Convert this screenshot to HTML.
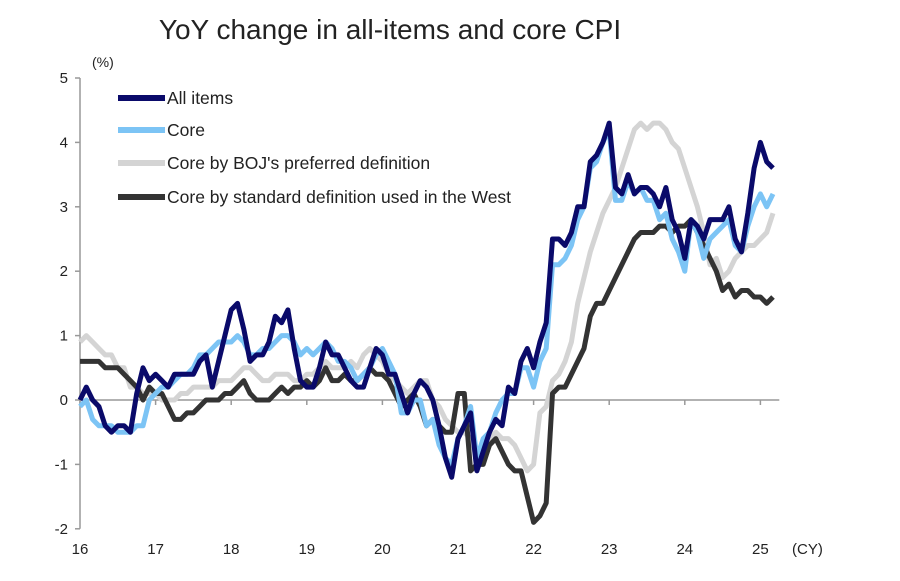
<!DOCTYPE html>
<html><head><meta charset="utf-8"><style>
body{margin:0;background:#fff;}
svg text{font-family:"Liberation Sans",Arial,sans-serif;fill:#222;}
</style></head><body>
<svg width="900" height="576">
<text x="390" y="39" font-size="28" text-anchor="middle">YoY change in all-items and core CPI</text>
<text x="92" y="67" font-size="14">(%)</text>
<text x="792" y="554" font-size="15">(CY)</text>
<g id="axes"></g>
<g id="lines"></g>
<g id="legend"></g>
</svg>
<script>
const yearLabels=["16","17","18","19","20","21","22","23","24","25"];
const yTicks=[5,4,3,2,1,0,-1,-2];
const allItems=[0,0.2,0,-0.1,-0.4,-0.5,-0.4,-0.4,-0.5,0.1,0.5,0.3,
0.4,0.3,0.2,0.4,0.4,0.4,0.4,0.6,0.7,0.2,0.6,1.0,
1.4,1.5,1.1,0.6,0.7,0.7,0.9,1.3,1.2,1.4,0.8,0.3,
0.2,0.2,0.5,0.9,0.7,0.7,0.5,0.3,0.2,0.2,0.5,0.8,
0.7,0.4,0.4,0.1,-0.2,0.1,0.3,0.2,0.0,-0.4,-0.9,-1.2,
-0.6,-0.4,-0.2,-1.1,-0.8,-0.5,-0.3,-0.4,0.2,0.1,0.6,0.8,
0.5,0.9,1.2,2.5,2.5,2.4,2.6,3.0,3.0,3.7,3.8,4.0,
4.3,3.3,3.2,3.5,3.2,3.3,3.3,3.2,3.0,3.3,2.8,2.6,
2.2,2.8,2.7,2.5,2.8,2.8,2.8,3.0,2.5,2.3,2.9,3.6,
4.0,3.7,3.6];
const core=[-0.1,0.0,-0.3,-0.4,-0.4,-0.4,-0.5,-0.5,-0.5,-0.4,-0.4,0.0,
0.1,0.2,0.2,0.3,0.4,0.4,0.5,0.7,0.7,0.8,0.9,0.9,
0.9,1.0,0.9,0.7,0.7,0.8,0.8,0.9,1.0,1.0,0.9,0.7,
0.8,0.7,0.8,0.9,0.8,0.6,0.6,0.5,0.3,0.4,0.5,0.7,
0.8,0.6,0.4,-0.2,-0.2,0.0,0.0,-0.4,-0.3,-0.7,-0.9,-1.0,
-0.6,-0.4,-0.1,-0.9,-0.6,-0.5,-0.2,0.0,0.1,0.1,0.5,0.5,
0.2,0.6,0.8,2.1,2.1,2.2,2.4,2.8,3.0,3.6,3.7,4.0,
4.2,3.1,3.1,3.4,3.2,3.3,3.1,3.1,2.8,2.9,2.5,2.3,
2.0,2.8,2.6,2.2,2.5,2.6,2.7,2.8,2.4,2.3,2.7,3.0,
3.2,3.0,3.2];
const coreBOJ=[0.9,1.0,0.9,0.8,0.7,0.7,0.5,0.5,0.2,0.2,0.1,0.1,
0.1,0.0,0.0,0.0,0.1,0.1,0.2,0.2,0.2,0.2,0.3,0.3,
0.3,0.4,0.5,0.5,0.4,0.3,0.3,0.4,0.4,0.4,0.3,0.3,
0.4,0.4,0.5,0.6,0.5,0.5,0.5,0.6,0.5,0.7,0.8,0.7,
0.6,0.4,0.3,0.2,0.1,0.2,0.3,0.3,0.0,-0.1,-0.3,-0.4,
-0.5,-0.5,-0.6,-0.9,-0.8,-0.6,-0.5,-0.6,-0.6,-0.7,-0.9,-1.1,
-1.0,-0.2,-0.1,0.3,0.4,0.6,0.9,1.5,1.9,2.3,2.6,2.9,
3.1,3.3,3.6,3.9,4.2,4.3,4.2,4.3,4.3,4.2,4.0,3.9,
3.6,3.3,3.0,2.6,2.1,2.2,1.9,2.0,2.2,2.3,2.4,2.4,
2.5,2.6,2.9];
const coreWest=[0.6,0.6,0.6,0.6,0.5,0.5,0.5,0.4,0.3,0.2,0.0,0.2,
0.1,0.1,-0.1,-0.3,-0.3,-0.2,-0.2,-0.1,0.0,0.0,0.0,0.1,
0.1,0.2,0.3,0.1,0.0,0.0,0.0,0.1,0.2,0.1,0.2,0.2,
0.3,0.2,0.3,0.5,0.3,0.3,0.4,0.3,0.3,0.4,0.5,0.4,
0.4,0.3,0.1,-0.1,0.0,0.1,-0.1,-0.4,-0.3,-0.4,-0.5,-0.5,
0.1,0.1,-1.1,-1.0,-1.0,-0.7,-0.6,-0.8,-1.0,-1.1,-1.1,-1.5,
-1.9,-1.8,-1.6,0.1,0.2,0.2,0.4,0.6,0.8,1.3,1.5,1.5,
1.7,1.9,2.1,2.3,2.5,2.6,2.6,2.6,2.7,2.7,2.6,2.7,
2.7,2.8,2.6,2.4,2.2,2.0,1.7,1.8,1.6,1.7,1.7,1.6,
1.6,1.5,1.6];
const seriesNames=["All items","Core","Core by BOJ's preferred definition","Core by standard definition used in the West"];
const NS="http://www.w3.org/2000/svg";
const x0=80, pxPerYear=75.6;
const X=m=>x0+m*pxPerYear/12;
const Y=v=>400-v*64.4;
function mk(tag,attrs,parent){const e=document.createElementNS(NS,tag);for(const k in attrs)e.setAttribute(k,attrs[k]);parent.appendChild(e);return e;}
const axes=document.getElementById('axes');
let a=mk('line',{x1:x0,y1:Y(5),x2:x0,y2:Y(-2),stroke:'#999','stroke-width':1.5},axes);


a=mk('line',{x1:x0,y1:Y(0),x2:X(111),y2:Y(0),stroke:'#999','stroke-width':1.5},axes);


yTicks.forEach(v=>{
 const t=mk('line',{x1:x0-5,y1:Y(v),x2:x0,y2:Y(v),stroke:'#999','stroke-width':1.5},axes);
 
 
 const l=mk('text',{x:x0-12,y:Y(v)+5,'font-size':15,'text-anchor':'end'},axes);
 l.textContent=v;
 
 
});
yearLabels.forEach((lab,i)=>{
 const xx=X(i*12);
 const t=mk('line',{x1:xx,y1:Y(0),x2:xx,y2:Y(0)+5,stroke:'#999','stroke-width':1.5},axes);
 
 
 const l=mk('text',{x:xx,y:554,'font-size':15,'text-anchor':'middle'},axes);
 l.textContent=lab;
 
 
});
const series=[[coreBOJ,'#d4d4d4','series-core-boj'],[coreWest,'#333333','series-core-west'],[core,'#7cc4f5','series-core'],[allItems,'#0a0a6a','series-all-items']];
const lines=document.getElementById('lines');
series.forEach(([d,c,n])=>{
 const p=mk('polyline',{points:d.map((v,i)=>X(i)+','+Y(v)).join(' '),fill:'none',stroke:c,'stroke-width':5,'stroke-linejoin':'round'},lines);
 
 
});
const legColors=['#0a0a6a','#7cc4f5','#d4d4d4','#333333'];
const legY=[98,130,163,197];
const lg=document.getElementById('legend');
seriesNames.forEach((nm,i)=>{
 const g=mk('g',{},lg);
 
 
 mk('line',{x1:118,y1:legY[i],x2:165,y2:legY[i],stroke:legColors[i],'stroke-width':6},g);
 const t=mk('text',{x:167,y:legY[i]+6,'font-size':17.5},g);
 t.textContent=nm;
});
</script>
</body></html>
